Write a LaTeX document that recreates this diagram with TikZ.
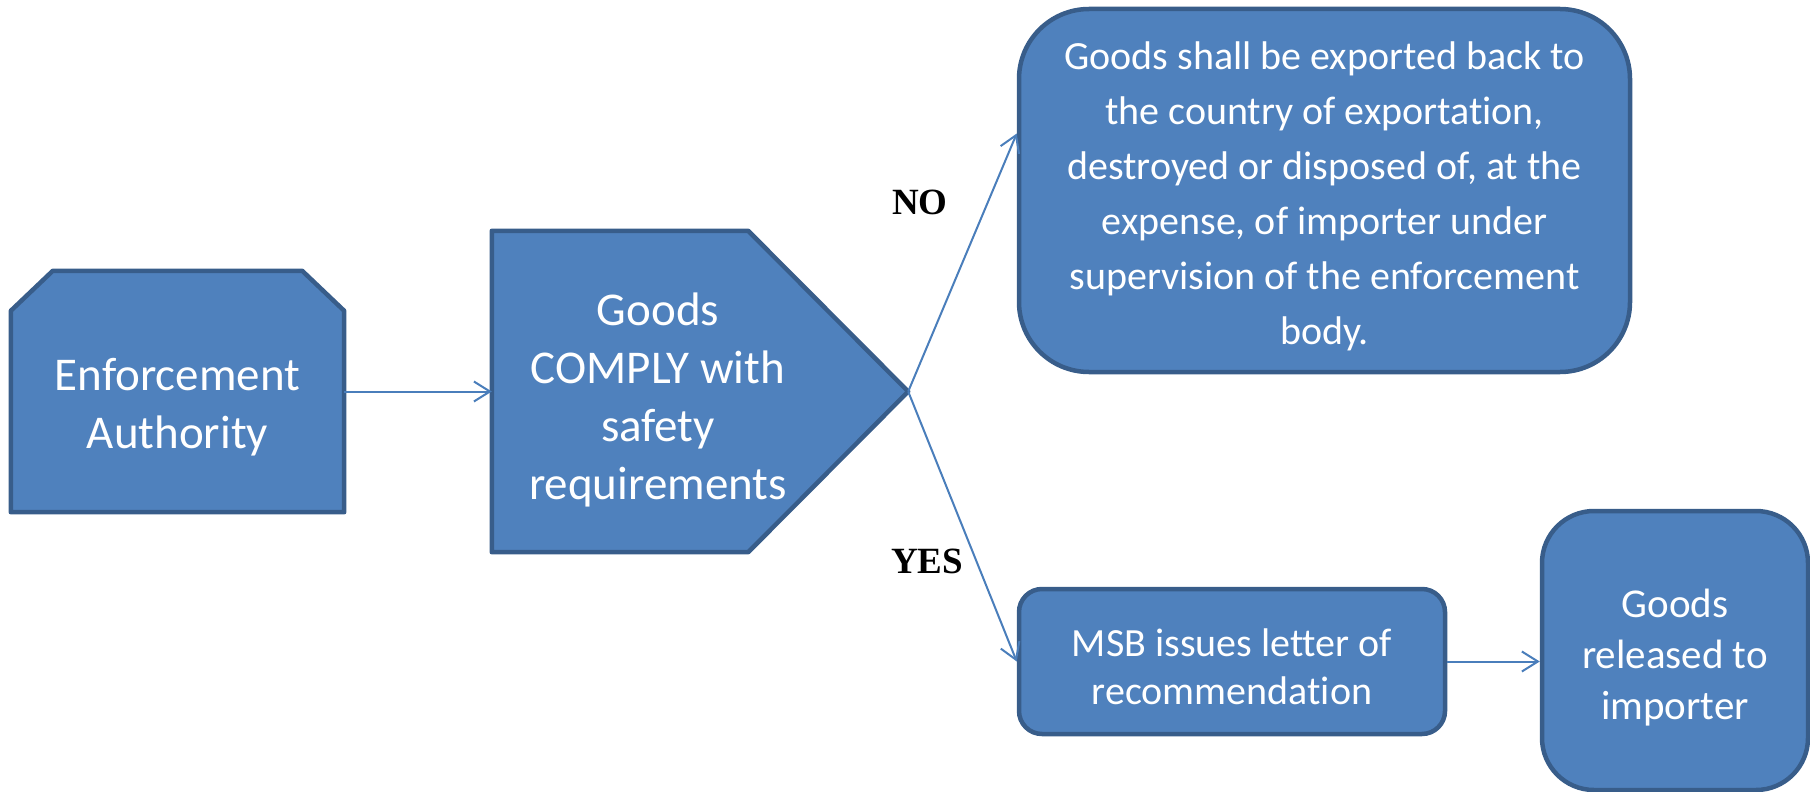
\documentclass[tikz,border=0pt]{standalone}
\usepackage{fontspec}
\setmainfont{Carlito}[Ligatures=CommonOff]
\newfontfamily\answerfont{Liberation Serif}
\usetikzlibrary{arrows.meta}
\definecolor{boxfill}{HTML}{4F81BD}
\definecolor{boxedge}{HTML}{385D8A}
\definecolor{linkblue}{HTML}{4A7EBB}

\begin{document}
\begin{tikzpicture}[x=1pt,y=-1pt,
    shapebox/.style={inner sep=0pt},
    edgeline/.style={draw=boxedge,fill=boxfill,line width=4.5pt,line join=round},
    roundbox/.style={shapebox,edgeline},
    boxtext/.style={text=white,align=center,inner sep=0pt},
    link/.style={draw=linkblue,line width=2pt,-{Straight Barb[length=16pt,width=20pt]}},
    answer/.style={font=\answerfont\bfseries\fontsize{37}{44}\selectfont}]
    \useasboundingbox (0,0) rectangle (1810,792);

    % left box and decision
    \node[shapebox,minimum width=333pt,minimum height=241pt] (ea) at (177.5,391.5) {};
    \draw[edgeline] (ea.south west) -- ([yshift=-40pt]ea.north west) -- ([xshift=42pt]ea.north west)
        -- ([xshift=-42pt]ea.north east) -- ([yshift=-40pt]ea.north east) -- (ea.south east) -- cycle;
    \node[boxtext,font=\fontsize{47}{58}\selectfont] (ea-txt) at ([yshift=-16pt]ea.center) {Enforcement\\Authority};

    \node[shapebox,minimum width=416pt,minimum height=321pt] (comply) at (700,391.5) {};
    \draw[edgeline] (comply.north west) -- ([xshift=-160pt]comply.north east) -- (comply.east)
        -- ([xshift=-160pt]comply.south east) -- (comply.south west) -- cycle;
    \node[boxtext,font=\fontsize{47}{58}\selectfont] (comply-txt) at ([yshift=-8pt,xshift=-42pt]comply.center) {Goods\\COMPLY with\\safety\\requirements};

    % outcomes
    \node[roundbox,rounded corners=70pt,minimum width=611pt,minimum height=363pt] (back) at (1324.5,190.5) {};
    \node[boxtext,font=\fontsize{40}{55}\selectfont] (back-txt) at ([yshift=-6pt]back.center)
        {Goods shall be exported back to\\the country of exportation,\\destroyed or disposed of, at the\\expense, of importer under\\supervision of the enforcement\\body.};

    \node[roundbox,rounded corners=23pt,minimum width=426pt,minimum height=145pt] (msb) at (1232,661.5) {};
    \node[boxtext,font=\fontsize{40}{48}\selectfont] (msb-txt) at ([yshift=-5pt]msb.center) {MSB issues letter of\\recommendation};

    \node[roundbox,rounded corners=52pt,minimum width=266pt,minimum height=279pt] (rel) at (1675,650.5) {};
    \node[boxtext,font=\fontsize{41}{51}\selectfont] (rel-txt) at ([yshift=-7pt]rel.center) {Goods\\released to\\importer};

    % connectors
    \draw[link] (ea) -- (comply);
    \draw[link] (comply.east) -- ([yshift=57pt]back.west);
    \draw[link] (comply.east) -- (msb.west);
    \draw[link] (msb.east) -- (msb.east -| rel.west);

    \node[answer] (no) at (920,202) {NO};
    \node[answer] (yes) at (927,561) {YES};
\end{tikzpicture}
\end{document}
